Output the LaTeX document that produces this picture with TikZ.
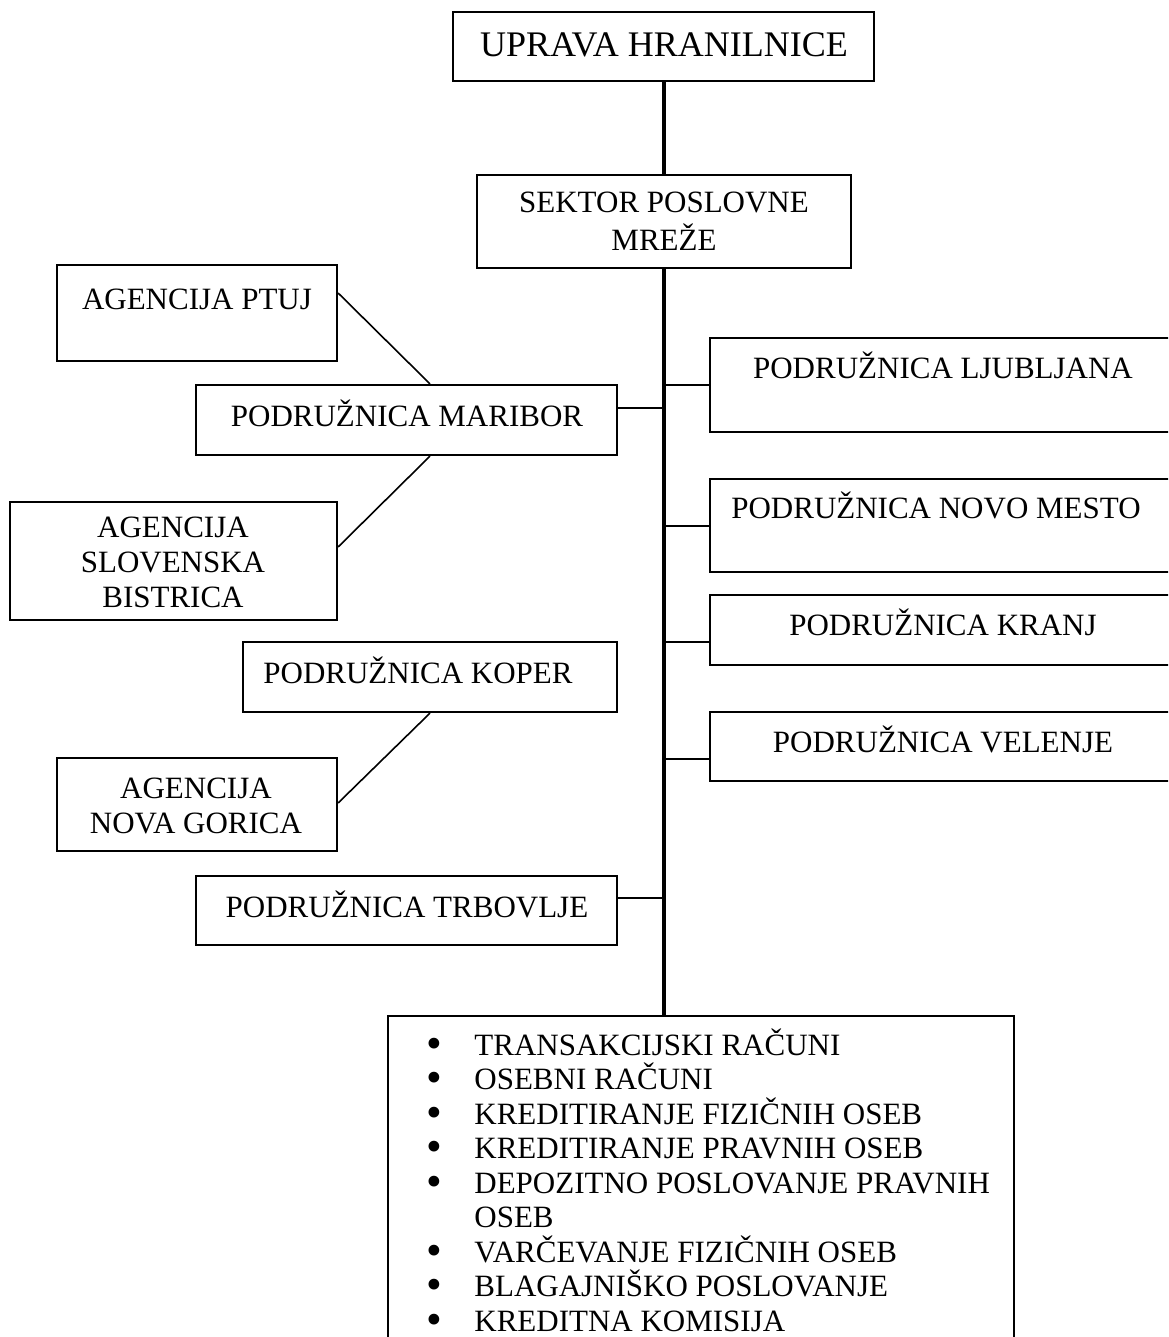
\documentclass[tikz,border=0pt]{standalone}
\usepackage{fontspec}
\usepackage{graphicx}
\setmainfont{Liberation Serif}
\usetikzlibrary{fit}
\newcommand{\mlines}[1]{\begin{tabular}[t]{@{}c@{}}#1\end{tabular}}
\newcommand{\bigbul}{\raisebox{-1.6pt}{\scalebox{1.45}{\textbullet}}}
\newcommand{\li}[1]{\bigbul & \smash{#1}}
\begin{document}
\begin{tikzpicture}[x=0.5pt,y=-0.5pt,
  box/.style={draw=black, line width=1.1pt, inner sep=0pt, rectangle},
  txt/.style={font=\fontsize{15.5}{17.5}\selectfont, inner sep=0pt, anchor=base},
  spine/.style={line width=2.3pt},
  branch/.style={line width=1pt},
  diag/.style={line width=0.8pt}]
\useasboundingbox (0,0) rectangle (1168,1337);
\clip (0,0) rectangle (1168,1337);
\fill[white] (0,0) rectangle (1168,1337);

% boxes
\node[box, fit={(453,12) (874,81)}] (upr) {};
\node[box, fit={(477,175) (851,268)}] (sek) {};
\node[box, fit={(57,265) (337,361)}] (ptuj) {};
\node[box, fit={(196,385) (617,455)}] (mar) {};
\node[box, fit={(10,502) (337,620)}] (bis) {};
\node[box, fit={(243,642) (617,712)}] (kop) {};
\node[box, fit={(57,758) (337,851)}] (ng) {};
\node[box, fit={(196,876) (617,945)}] (trb) {};
\node[box, fit={(710,338) (1176,432)}] (lju) {};
\node[box, fit={(710,479) (1176,572)}] (nm) {};
\node[box, fit={(710,595) (1176,665)}] (kra) {};
\node[box, fit={(710,712) (1176,781)}] (vel) {};
\node[box, fit={(388,1016) (1014,1350)}] (list) {};

% texts
\node[txt, font=\fontsize{18}{20}\selectfont] (uprT) at (664,57) {UPRAVA HRANILNICE};
\node[txt] (sekT) at (664,213) {\mlines{SEKTOR POSLOVNE\\MREŽE}};
\node[txt] (ptujT) at (197,309) {AGENCIJA PTUJ};
\node[txt] (marT) at (407,426) {PODRUŽNICA MARIBOR};
\node[txt] (bisT) at (173,537) {\mlines{AGENCIJA\\SLOVENSKA\\BISTRICA}};
\node[txt] (kopT) at (418,683) {PODRUŽNICA KOPER};
\node[txt] (ngT) at (196,798) {\mlines{AGENCIJA\\NOVA GORICA}};
\node[txt] (trbT) at (407,917) {PODRUŽNICA TRBOVLJE};
\node[txt] (ljuT) at (943,378) {PODRUŽNICA LJUBLJANA};
\node[txt] (nmT) at (936,518) {PODRUŽNICA NOVO MESTO};
\node[txt] (kraT) at (943,635) {PODRUŽNICA KRANJ};
\node[txt] (velT) at (943,752) {PODRUŽNICA VELENJE};
\node[txt, anchor=base west] (listT) at (426,1055) {%
  \renewcommand{\arraystretch}{0.986}%
  \begin{tabular}[t]{@{}p{24pt}@{}l@{}}
  \li{TRANSAKCIJSKI RAČUNI}\\
  \li{OSEBNI RAČUNI}\\
  \li{KREDITIRANJE FIZIČNIH OSEB}\\
  \li{KREDITIRANJE PRAVNIH OSEB}\\
  \li{DEPOZITNO POSLOVANJE PRAVNIH}\\
   & OSEB\\
  \li{VARČEVANJE FIZIČNIH OSEB}\\
  \li{BLAGAJNIŠKO POSLOVANJE}\\
  \li{KREDITNA KOMISIJA}
  \end{tabular}};

% spine
\draw[spine] (upr.south -| sek.north) -- (sek.north);
\draw[spine] (sek.south) -- (sek.south |- list.north);

% branches
\draw[branch] (mar.east |- 0,408) -- (sek.south |- 0,408);
\draw[branch] (lju.west) -- (lju.west -| sek.south);
\draw[branch] (nm.west) -- (nm.west -| sek.south);
\draw[branch] (kra.west |- 0,642) -- (sek.south |- 0,642);
\draw[branch] (vel.west |- 0,759) -- (sek.south |- 0,759);
\draw[branch] (trb.east |- 0,898) -- (sek.south |- 0,898);

% agency links
\draw[diag] (ptuj.east |- 0,293) -- (mar.north -| 430,0);
\draw[diag] (mar.south -| 430,0) -- (bis.east |- 0,547);
\draw[diag] (kop.south -| 430,0) -- (ng.east |- 0,803);
\end{tikzpicture}
\end{document}
